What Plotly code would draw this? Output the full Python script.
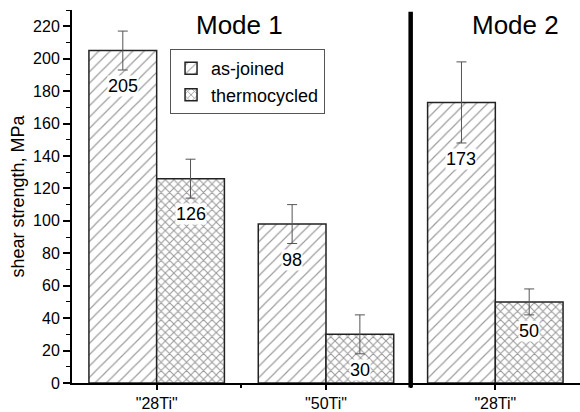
import plotly.graph_objects as go

categories = ['"28Ti"', '"50Ti"', '"28Ti"']
cat_pos = [1, 2, 3]
as_joined = [205, 98, 173]
as_joined_err = [12, 12, 25]
thermocycled = [126, 30, 50]
thermocycled_err = [12, 12, 8]
y_ticks = list(range(0, 221, 20))

FONT = "Liberation Sans, Arial"

fig = go.Figure()
fig.add_trace(go.Bar(
    x=cat_pos, y=as_joined, name="as-joined",
    error_y=dict(type="data", array=as_joined_err, color="#555555", thickness=1, width=5),
    marker=dict(color="white", line=dict(color="#222222", width=1.5),
                pattern=dict(shape="/", fgcolor="#3a3a3a", bgcolor="white", size=8, solidity=0.15, fillmode="overlay")),
))
fig.add_trace(go.Bar(
    x=cat_pos, y=thermocycled, name="thermocycled",
    error_y=dict(type="data", array=thermocycled_err, color="#555555", thickness=1, width=5),
    marker=dict(color="white", line=dict(color="#222222", width=1.5),
                pattern=dict(shape="x", fgcolor="#333333", bgcolor="white", size=6, solidity=0.32, fillmode="overlay")),
))

# value labels
for vals, errs, off in ((as_joined, as_joined_err, -0.2), (thermocycled, thermocycled_err, 0.2)):
    for p, v, e in zip(cat_pos, vals, errs):
        fig.add_annotation(x=p + off, y=v - e - 10, text=str(v), showarrow=False,
                           font=dict(family=FONT, size=18, color="black"),
                           bgcolor="white", borderpad=0, yanchor="middle")

fig.add_annotation(x=1.49, y=1.0, xref="x", yref="paper", text="Mode 1", showarrow=False,
                   font=dict(family=FONT, size=26, color="black"), yanchor="bottom", yshift=-32)
fig.add_annotation(x=3.12, y=1.0, xref="x", yref="paper", text="Mode 2", showarrow=False,
                   font=dict(family=FONT, size=26, color="black"), yanchor="bottom", yshift=-32)

fig.add_shape(type="line", x0=2.5, x1=2.5, y0=-0.012, y1=0.995, xref="x", yref="paper",
              line=dict(color="black", width=4.5))

fig.update_layout(
    width=580, height=412,
    margin=dict(l=72, r=0, t=10, b=29, autoexpand=False),
    plot_bgcolor="white", paper_bgcolor="white",
    barmode="group", bargap=0.2, bargroupgap=0,
    font=dict(family=FONT, color="black"),
    showlegend=True,
    legend=dict(x=0.193, y=0.895, xanchor="left", yanchor="top",
                bordercolor="#555555", borderwidth=1, bgcolor="white",
                font=dict(size=18), tracegroupgap=0, itemwidth=30),
    xaxis=dict(range=[0.5, 3.5], tickvals=cat_pos, ticktext=categories, automargin=False,
               showline=True, linecolor="black", linewidth=1.5, ticks="outside", ticklen=5,
               tickcolor="black", tickwidth=1.5, showgrid=False, zeroline=False,
               tickfont=dict(size=16),
               minor=dict(tickvals=[1.5, 2.5], ticks="outside", ticklen=3, tickcolor="black", tickwidth=1.5)),
    yaxis=dict(range=[0, 230], tickvals=y_ticks, showline=True, linecolor="black", linewidth=2, automargin=False,
               ticks="outside", ticklen=7, tickwidth=1.5, tickcolor="black", showgrid=False, zeroline=False,
               tickfont=dict(size=16),
               title=dict(text="shear strength, MPa", font=dict(size=18), standoff=4),
               minor=dict(dtick=10, ticks="outside", ticklen=4, tickcolor="black", tickwidth=1.2)),
)

fig.write_html("out.html")
